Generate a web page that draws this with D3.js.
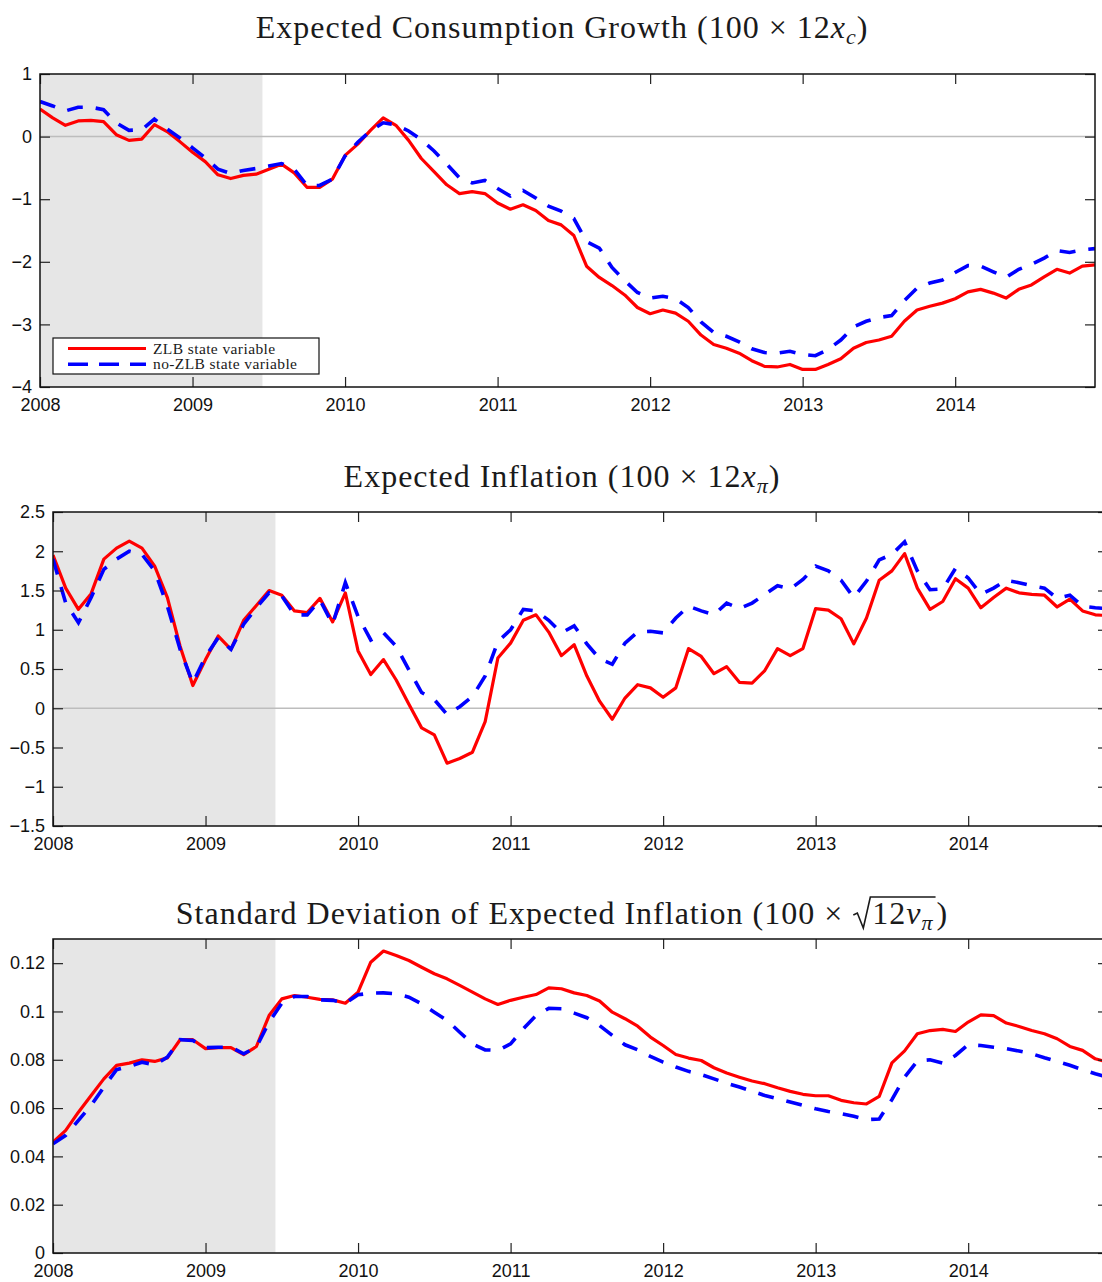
<!DOCTYPE html>
<html>
<head>
<meta charset="utf-8">
<script src="https://cdn.jsdelivr.net/npm/d3@7"></script>
<style>
  body { margin: 0; background: #fff; }
  svg { display: block; }
</style>
</head>
<body>
<svg id="chart" width="1102" height="1282"></svg>
<script>
// ---- data: monthly observations, Jan 2008 .. Dec 2014 ----
const startYear = 2008;
const yearTicks = [2008, 2009, 2010, 2011, 2012, 2013, 2014];
const recessionEndMonth = 17.5;           // months after Jan 2008 (mid-June 2009)
const seriesNames = ["ZLB state variable", "no-ZLB state variable"];

const consTicks = [1, 0, -1, -2, -3, -4];
const inflTicks = [2.5, 2, 1.5, 1, 0.5, 0, -0.5, -1, -1.5];
const sdTicks = [0.12, 0.1, 0.08, 0.06, 0.04, 0.02, 0];

// Expected consumption growth (100 x 12 x_c)
const consZLB = [
  0.44, 0.30, 0.18, 0.25, 0.26, 0.24, 0.03, -0.06, -0.04, 0.19,
  0.08, -0.08, -0.25, -0.40, -0.61, -0.67, -0.62, -0.60, -0.52, -0.44,
  -0.58, -0.81, -0.81, -0.68, -0.30, -0.12, 0.10, 0.30, 0.18, -0.06,
  -0.35, -0.56, -0.77, -0.91, -0.88, -0.91, -1.06, -1.16, -1.09, -1.18,
  -1.34, -1.41, -1.58, -2.07, -2.25, -2.38, -2.53, -2.73, -2.83, -2.77,
  -2.82, -2.95, -3.17, -3.32, -3.38, -3.46, -3.58, -3.67, -3.68, -3.64,
  -3.72, -3.72, -3.64, -3.55, -3.38, -3.29, -3.25, -3.19, -2.95, -2.77,
  -2.71, -2.66, -2.59, -2.48, -2.44, -2.50, -2.58, -2.44, -2.37, -2.24,
  -2.12, -2.18, -2.07, -2.05
];
const consNoZLB = [
  0.56, 0.49, 0.41, 0.47, 0.47, 0.43, 0.22, 0.10, 0.11, 0.28,
  0.12, -0.02, -0.18, -0.34, -0.52, -0.59, -0.54, -0.51, -0.47, -0.43,
  -0.52, -0.78, -0.78, -0.68, -0.31, -0.09, 0.09, 0.22, 0.19, 0.09,
  -0.05, -0.23, -0.44, -0.66, -0.74, -0.70, -0.83, -0.95, -0.86, -0.98,
  -1.11, -1.19, -1.31, -1.68, -1.78, -2.09, -2.30, -2.49, -2.58, -2.55,
  -2.59, -2.73, -2.96, -3.13, -3.19, -3.28, -3.39, -3.45, -3.46, -3.43,
  -3.48, -3.50, -3.40, -3.25, -3.04, -2.95, -2.89, -2.86, -2.62, -2.42,
  -2.34, -2.29, -2.17, -2.06, -2.07, -2.16, -2.25, -2.12, -2.04, -1.94,
  -1.82, -1.85, -1.81, -1.79
];

// Expected inflation (100 x 12 x_pi)
const inflZLB = [
  1.95, 1.53, 1.26, 1.46, 1.90, 2.04, 2.13, 2.04, 1.81, 1.41,
  0.79, 0.29, 0.62, 0.92, 0.75, 1.12, 1.31, 1.50, 1.44, 1.24,
  1.22, 1.40, 1.10, 1.47, 0.73, 0.43, 0.62, 0.36, 0.05, -0.25,
  -0.34, -0.70, -0.64, -0.56, -0.17, 0.64, 0.83, 1.12, 1.19, 0.97,
  0.67, 0.81, 0.41, 0.09, -0.14, 0.13, 0.30, 0.26, 0.14, 0.26,
  0.76, 0.66, 0.44, 0.53, 0.33, 0.32, 0.48, 0.76, 0.67, 0.76,
  1.27, 1.25, 1.14, 0.82, 1.15, 1.63, 1.75, 1.97, 1.53, 1.26,
  1.36, 1.65, 1.53, 1.28, 1.41, 1.53, 1.47, 1.45, 1.44, 1.29,
  1.39, 1.24, 1.19, 1.18
];
const inflNoZLB = [
  1.90, 1.34, 1.09, 1.41, 1.77, 1.90, 2.00, 1.96, 1.75, 1.30,
  0.75, 0.32, 0.66, 0.90, 0.75, 1.07, 1.28, 1.47, 1.43, 1.19,
  1.19, 1.38, 1.07, 1.60, 1.17, 0.87, 0.96, 0.79, 0.49, 0.20,
  0.11, -0.08, 0.02, 0.15, 0.41, 0.85, 1.00, 1.26, 1.24, 1.12,
  0.96, 1.05, 0.82, 0.63, 0.56, 0.83, 0.97, 0.98, 0.96, 1.15,
  1.30, 1.24, 1.19, 1.34, 1.27, 1.34, 1.45, 1.56, 1.52, 1.64,
  1.81, 1.75, 1.63, 1.41, 1.62, 1.89, 1.96, 2.12, 1.75, 1.51,
  1.52, 1.78, 1.66, 1.45, 1.53, 1.63, 1.60, 1.56, 1.53, 1.40,
  1.44, 1.30, 1.28, 1.27
];

// Standard deviation of expected inflation (100 x sqrt(12 nu_pi))
const sdZLB = [
  0.0459, 0.0508, 0.0583, 0.0652, 0.0721, 0.0777, 0.0786, 0.0800, 0.0793, 0.0808,
  0.0883, 0.0883, 0.0846, 0.0850, 0.0850, 0.0821, 0.0855, 0.0983, 0.1052, 0.1066,
  0.1059, 0.1050, 0.1048, 0.1034, 0.1080, 0.1204, 0.1250, 0.1232, 0.1211, 0.1183,
  0.1156, 0.1135, 0.1108, 0.1080, 0.1052, 0.1029, 0.1046, 0.1059, 0.1070, 0.1098,
  0.1094, 0.1077, 0.1066, 0.1043, 0.0997, 0.0970, 0.0939, 0.0894, 0.0859, 0.0822,
  0.0807, 0.0797, 0.0767, 0.0745, 0.0728, 0.0712, 0.0701, 0.0684, 0.0669, 0.0657,
  0.0651, 0.0651, 0.0632, 0.0622, 0.0617, 0.0648, 0.0787, 0.0837, 0.0908, 0.0921,
  0.0926, 0.0917, 0.0956, 0.0986, 0.0983, 0.0952, 0.0938, 0.0921, 0.0908, 0.0887,
  0.0855, 0.0839, 0.0804, 0.0790
];
const sdNoZLB = [
  0.0452, 0.0487, 0.0549, 0.0611, 0.0687, 0.0759, 0.0772, 0.0790, 0.0779, 0.0811,
  0.0883, 0.0880, 0.0850, 0.0852, 0.0852, 0.0825, 0.0852, 0.0956, 0.1034, 0.1062,
  0.1062, 0.1048, 0.1046, 0.1034, 0.1069, 0.1076, 0.1077, 0.1073, 0.1059, 0.1032,
  0.0997, 0.0963, 0.0914, 0.0866, 0.0841, 0.0839, 0.0866, 0.0928, 0.0983, 0.1013,
  0.1011, 0.0993, 0.0974, 0.0942, 0.0901, 0.0862, 0.0841, 0.0814, 0.0790, 0.0770,
  0.0752, 0.0739, 0.0721, 0.0703, 0.0687, 0.0670, 0.0652, 0.0639, 0.0625, 0.0611,
  0.0597, 0.0586, 0.0577, 0.0566, 0.0552, 0.0555, 0.0635, 0.0728, 0.0795, 0.0800,
  0.0786, 0.0818, 0.0862, 0.0859, 0.0852, 0.0846, 0.0836, 0.0825, 0.0808, 0.0793,
  0.0777, 0.0759, 0.0742, 0.0728
];

// ---- layout ----
const svg = d3.select("#chart");
const titleCenter = 562;
const plotW = 1055;
const tickLen = 10;
const colors = { zlb: "#ff0000", nozlb: "#0000ff" };
const tickFont = "'Liberation Sans', Arial, sans-serif";
const serif = "'Liberation Serif', 'Times New Roman', serif";

const panels = [
  { id: "cons", left: 40, top: 74, bottom: 387, domain: [-4, 1], ticks: consTicks,
    zlb: consZLB, nozlb: consNoZLB, zero: true, titleY: 38, legend: true, title: "cons" },
  { id: "infl", left: 53, top: 512, bottom: 826, domain: [-1.5, 2.5], ticks: inflTicks,
    zlb: inflZLB, nozlb: inflNoZLB, zero: true, titleY: 487, title: "infl" },
  { id: "sd", left: 53, top: 939, bottom: 1253, domain: [0, 0.13], ticks: sdTicks,
    zlb: sdZLB, nozlb: sdNoZLB, zero: false, titleY: 924, title: "sd" }
];

const fmt = d3.format("~g");

panels.forEach(p => {
  const x = d3.scaleLinear()
    .domain([startYear, startYear + (p.zlb.length - 1) / 12])
    .range([p.left, p.left + plotW]);
  const y = d3.scaleLinear().domain(p.domain).range([p.bottom, p.top]);
  const g = svg.append("g");

  g.append("clipPath").attr("id", "clip-" + p.id)
    .append("rect")
    .attr("x", p.left).attr("y", p.top)
    .attr("width", plotW).attr("height", p.bottom - p.top);

  // recession shading
  g.append("rect")
    .attr("x", x(startYear)).attr("y", p.top)
    .attr("width", x(startYear + recessionEndMonth / 12) - x(startYear))
    .attr("height", p.bottom - p.top)
    .attr("fill", "#e6e6e6");

  if (p.zero) {
    g.append("line")
      .attr("x1", p.left).attr("x2", p.left + plotW)
      .attr("y1", y(0)).attr("y2", y(0))
      .attr("stroke", "#bdbdbd").attr("stroke-width", 1.5);
  }

  const line = d3.line()
    .x((d, i) => x(startYear + i / 12))
    .y(d => y(d));

  const lines = g.append("g").attr("clip-path", `url(#clip-${p.id})`);
  lines.append("path").datum(p.zlb)
    .attr("d", line).attr("fill", "none")
    .attr("stroke", colors.zlb).attr("stroke-width", 3.2)
    .attr("stroke-linejoin", "round");
  lines.append("path").datum(p.nozlb)
    .attr("d", line).attr("fill", "none")
    .attr("stroke", colors.nozlb).attr("stroke-width", 3.6)
    .attr("stroke-dasharray", "16,13");

  // axes: ticks point inward on all four sides
  const styleAxis = sel => {
    sel.select(".domain").remove();
    sel.selectAll(".tick line").attr("stroke", "#222").attr("stroke-width", 1.2);
    sel.selectAll(".tick text").attr("fill", "#111")
      .style("font-family", tickFont).style("font-size", "18px");
  };
  g.append("g").attr("transform", `translate(0,${p.bottom})`)
    .call(d3.axisBottom(x).tickValues(yearTicks).tickFormat(d3.format("d"))
      .tickSizeInner(-tickLen).tickSizeOuter(0).tickPadding(11))
    .call(styleAxis);
  g.append("g").attr("transform", `translate(0,${p.top})`)
    .call(d3.axisTop(x).tickValues(yearTicks).tickFormat("")
      .tickSizeInner(-tickLen).tickSizeOuter(0))
    .call(styleAxis);
  g.append("g").attr("transform", `translate(${p.left},0)`)
    .call(d3.axisLeft(y).tickValues(p.ticks).tickFormat(fmt)
      .tickSizeInner(-tickLen).tickSizeOuter(0).tickPadding(8))
    .call(styleAxis);
  g.append("g").attr("transform", `translate(${p.left + plotW},0)`)
    .call(d3.axisRight(y).tickValues(p.ticks).tickFormat("")
      .tickSizeInner(-tickLen).tickSizeOuter(0))
    .call(styleAxis);

  // frame
  g.append("rect")
    .attr("x", p.left).attr("y", p.top)
    .attr("width", plotW).attr("height", p.bottom - p.top)
    .attr("fill", "none").attr("stroke", "#111").attr("stroke-width", 1.5);

  // title
  const t = svg.append("text")
    .attr("x", titleCenter).attr("y", p.titleY)
    .attr("text-anchor", "middle")
    .style("font-family", serif).style("font-size", "32px")
    .style("letter-spacing", "1px")
    .attr("fill", "#1a1a1a");
  const sub = (txt) => t.append("tspan").attr("dy", 6).style("font-size", "22px")
    .style("font-style", "italic").text(txt);
  const back = (txt) => t.append("tspan").attr("dy", -6).text(txt);

  if (p.title === "cons") {
    t.append("tspan").text("Expected Consumption Growth (100 \u00d7 12");
    t.append("tspan").style("font-style", "italic").text("x");
    sub("c");
    back(")");
  } else if (p.title === "infl") {
    t.append("tspan").text("Expected Inflation (100 \u00d7 12");
    t.append("tspan").style("font-style", "italic").text("x");
    sub("\u03c0");
    back(")");
  } else {
    const lead = "Standard Deviation of Expected Inflation (100 \u00d7 ";
    t.append("tspan").text(lead);
    t.append("tspan").attr("dx", 20).text("12");
    t.append("tspan").style("font-style", "italic").text("\u03bd");
    sub("\u03c0");
    back(")").attr("dx", 3);
    // radical sign with its bar over the radicand
    const node = t.node();
    const i0 = lead.length;
    const x0 = node.getStartPositionOfChar(i0).x;
    const x1 = node.getEndPositionOfChar(i0 + 3).x;
    const yb = p.titleY;
    g.append("path")
      .attr("d", `M${x0 - 19},${yb - 9} L${x0 - 15},${yb - 11} L${x0 - 9},${yb + 4} ` +
                 `L${x0 - 2},${yb - 27} L${x1 + 2},${yb - 27}`)
      .attr("fill", "none").attr("stroke", "#1a1a1a").attr("stroke-width", 1.6);
  }

  // legend
  if (p.legend) {
    const lg = svg.append("g");
    lg.append("rect").attr("x", 53).attr("y", 338).attr("width", 266).attr("height", 36)
      .attr("fill", "#fff").attr("stroke", "#111").attr("stroke-width", 1.2);
    const rows = [
      { name: seriesNames[0], color: colors.zlb, dash: null, w: 3.2 },
      { name: seriesNames[1], color: colors.nozlb, dash: "20,11", w: 3.6 }
    ];
    rows.forEach((r, i) => {
      const yy = 348.5 + i * 15.8;
      lg.append("line").attr("x1", 68).attr("x2", 146).attr("y1", yy).attr("y2", yy)
        .attr("stroke", r.color).attr("stroke-width", r.w)
        .attr("stroke-dasharray", r.dash);
      lg.append("text").attr("x", 153).attr("y", yy + 5)
        .style("font-family", serif).style("font-size", "15.5px")
        .style("letter-spacing", "0.4px")
        .attr("fill", "#1a1a1a").text(r.name);
    });
  }
});
</script>
</body>
</html>
